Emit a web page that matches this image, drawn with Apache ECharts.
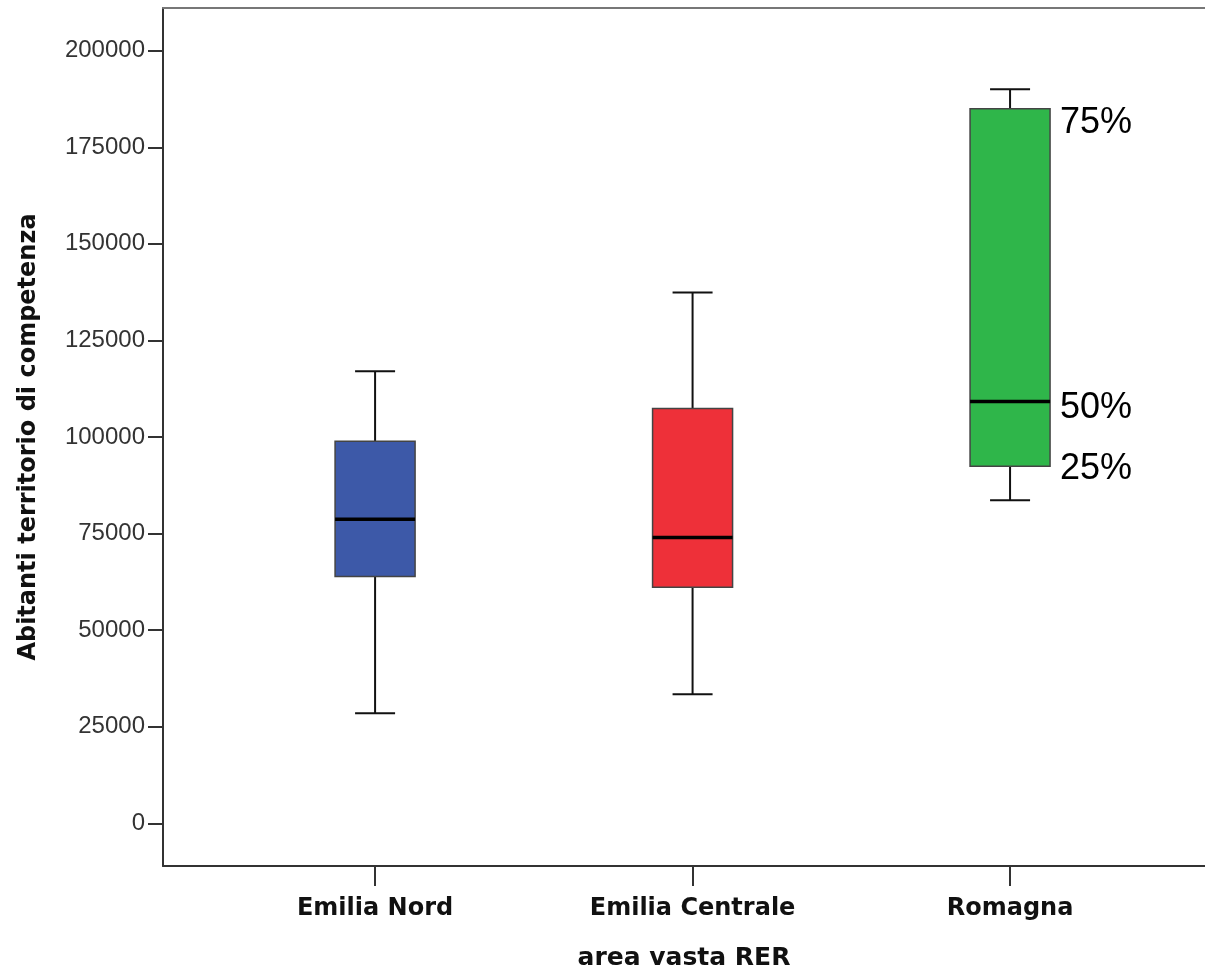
<!DOCTYPE html>
<html>
<head>
<meta charset="utf-8">
<script src="https://cdn.jsdelivr.net/npm/echarts@6/dist/echarts.min.js"></script>
<style>html,body{margin:0;padding:0;background:#fff;}#c{width:1205px;height:973px;}</style>
</head>
<body>
<div id="c"></div>
<script>
var categories = ['Emilia Nord', 'Emilia Centrale', 'Romagna'];
var minVals = [28500, 33400, 83600];
var q1Vals = [63900, 61100, 92400];
var medVals = [78700, 74000, 109200];
var q3Vals = [98900, 107400, 185000];
var maxVals = [117000, 137400, 190000];
var boxColors = ['#3D59A8', '#EE3039', '#2FB64A'];
var yTicks = [0, 25000, 50000, 75000, 100000, 125000, 150000, 175000, 200000];
var pctLabels = ['25%', '50%', '75%'];
var pctValues = [q1Vals[2], medVals[2], q3Vals[2]];
var pctOffsets = [3, 7, 14];

var boxData = categories.map(function (c, i) {
  return [i, minVals[i], q1Vals[i], medVals[i], q3Vals[i], maxVals[i]];
});
var pctData = pctLabels.map(function (l, i) { return [2, pctValues[i], i]; });

var titleFont = 'DejaVu Sans';
var chart = echarts.init(document.getElementById('c'), null, {renderer: 'canvas'});
chart.setOption({
  animation: false,
  backgroundColor: '#fff',
  grid: {left: 163, top: 8, right: 0, bottom: 107, show: false, containLabel: false, outerBoundsMode: 'none'},
  xAxis: [{
    type: 'value', min: -0.668, max: 2.614,
    splitLine: {show: false},
    axisLine: {show: true, onZero: false, lineStyle: {color: '#333', width: 2}},
    axisTick: {show: true, customValues: [0, 1, 2], length: 20, lineStyle: {color: '#333', width: 2}},
    axisLabel: {customValues: [0, 1, 2], formatter: function (v) { return categories[Math.round(v)]; },
      fontFamily: titleFont, fontWeight: 'bold', fontSize: 24, color: '#111', margin: 31},
    name: 'area vasta RER', nameLocation: 'middle', nameGap: 80,
    nameTextStyle: {fontFamily: titleFont, fontWeight: 'bold', fontSize: 25, color: '#111'}
  }, {
    type: 'value', position: 'top', min: -0.668, max: 2.614,
    splitLine: {show: false}, axisTick: {show: false}, axisLabel: {show: false},
    axisLine: {show: true, onZero: false, lineStyle: {color: '#777', width: 2}}
  }],
  yAxis: {
    type: 'value', min: -11050, max: 211050,
    splitLine: {show: false},
    axisLine: {show: true, onZero: false, lineStyle: {color: '#333', width: 2}},
    axisTick: {show: true, customValues: yTicks, length: 15, lineStyle: {color: '#333', width: 2}},
    axisLabel: {customValues: yTicks, formatter: function (v) { return String(v); },
      fontFamily: 'Liberation Sans', fontSize: 24, color: '#333', margin: 18},
    name: 'Abitanti territorio di competenza', nameLocation: 'middle', nameGap: 122,
    nameTextStyle: {fontFamily: titleFont, fontWeight: 'bold', fontSize: 24, color: '#111'}
  },
  series: [{
    type: 'custom',
    data: boxData,
    renderItem: function (params, api) {
      var x = api.value(0);
      var pMin = api.coord([x, api.value(1)]);
      var pQ1 = api.coord([x, api.value(2)]);
      var pMed = api.coord([x, api.value(3)]);
      var pQ3 = api.coord([x, api.value(4)]);
      var pMax = api.coord([x, api.value(5)]);
      var bw = api.size([0.252, 0])[0];
      var cw = api.size([0.126, 0])[0];
      var cx = pMed[0];
      var ls = {stroke: '#111', lineWidth: 2};
      return {type: 'group', children: [
        {type: 'line', shape: {x1: cx, y1: pMax[1], x2: cx, y2: pQ3[1]}, style: ls},
        {type: 'line', shape: {x1: cx, y1: pMin[1], x2: cx, y2: pQ1[1]}, style: ls},
        {type: 'line', shape: {x1: cx - cw / 2, y1: pMax[1], x2: cx + cw / 2, y2: pMax[1]}, style: ls},
        {type: 'line', shape: {x1: cx - cw / 2, y1: pMin[1], x2: cx + cw / 2, y2: pMin[1]}, style: ls},
        {type: 'rect', shape: {x: cx - bw / 2, y: pQ3[1], width: bw, height: pQ1[1] - pQ3[1]},
          style: {fill: boxColors[params.dataIndex], stroke: '#444', lineWidth: 1.5}},
        {type: 'line', shape: {x1: cx - bw / 2, y1: pMed[1], x2: cx + bw / 2, y2: pMed[1]}, style: {stroke: '#000', lineWidth: 3.5}}
      ]};
    }
  }, {
    type: 'custom',
    data: pctData,
    renderItem: function (params, api) {
      var p = api.coord([api.value(0), api.value(1)]);
      var bw = api.size([0.252, 0])[0];
      var idx = api.value(2);
      return {type: 'text', x: p[0] + bw / 2 + 10, y: p[1] + pctOffsets[idx],
        style: {text: pctLabels[idx], fontFamily: 'Liberation Sans', fontSize: 36, fill: '#000', textAlign: 'left', textVerticalAlign: 'middle'}};
    }
  }]
});
</script>
</body>
</html>
